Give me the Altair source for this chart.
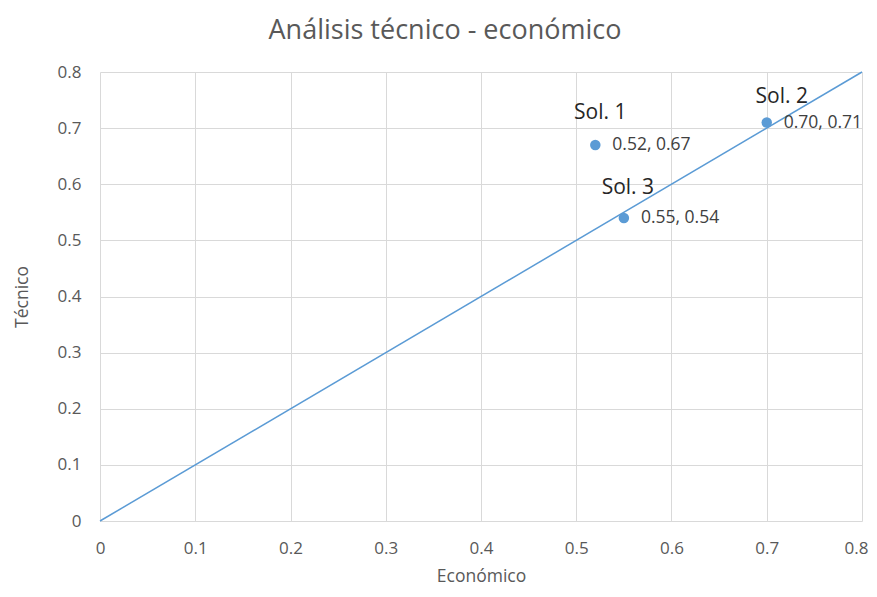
import altair as alt
import pandas as pd

sol_names = ["Sol. 1", "Sol. 2", "Sol. 3"]
economico = [0.52, 0.70, 0.55]
tecnico = [0.67, 0.71, 0.54]
value_labels = ["0.52, 0.67", "0.70, 0.71", "0.55, 0.54"]

line_x = [0.0, 0.8]
line_y = [0.0, 0.8]

tick_values = [0, 0.1, 0.2, 0.3, 0.4, 0.5, 0.6, 0.7, 0.8]

pts = pd.DataFrame({"name": sol_names, "x": economico, "y": tecnico, "lab": value_labels})
ln = pd.DataFrame({"x": line_x, "y": line_y})

FONT = "Open Sans"
BLUE = "#5B9BD5"
GREY = "#595959"

xs = alt.Scale(domain=[0, 0.8], nice=False, zero=True)
ys = alt.Scale(domain=[0, 0.8], nice=False, zero=True)

xaxis = alt.Axis(values=tick_values, title="Económico", grid=True, gridColor="#d9d9d9",
                 domain=False, ticks=False, labelPadding=19, titlePadding=11, labelFlush=False,
                 labelAlign=alt.ExprRef(expr="datum.value >= 0.8 ? 'right' : 'center'"),
                 labelOffset=alt.ExprRef(expr="datum.value >= 0.8 ? 6 : 0"),
                 labelExpr="datum.value == 0 ? '0' : format(datum.value, '.1f')")
yaxis = alt.Axis(values=tick_values, title="Técnico", grid=True, gridColor="#d9d9d9",
                 domain=False, ticks=False, labelPadding=19, titlePadding=26, labelFlush=False,
                 labelExpr="datum.value == 0 ? '0' : format(datum.value, '.1f')")

line = alt.Chart(ln).mark_line(color=BLUE, strokeWidth=1.5).encode(
    x=alt.X("x:Q", scale=xs, axis=xaxis),
    y=alt.Y("y:Q", scale=ys, axis=yaxis),
)

points = alt.Chart(pts).mark_circle(color=BLUE, size=110, opacity=1).encode(
    x=alt.X("x:Q", scale=xs), y=alt.Y("y:Q", scale=ys)
)

vals = alt.Chart(pts).mark_text(align="left", baseline="middle", dx=17, dy=0,
                                fontSize=17.5, color="#404040", font=FONT).encode(
    x=alt.X("x:Q", scale=xs), y=alt.Y("y:Q", scale=ys), text="lab:N"
)

offsets = {"Sol. 1": (5, -32), "Sol. 2": (15, -26), "Sol. 3": (4, -30)}
name_layers = []
for n, (dx, dy) in offsets.items():
    name_layers.append(
        alt.Chart(pts).transform_filter(alt.datum.name == n).mark_text(
            align="center", baseline="middle", dx=dx, dy=dy, fontSize=21,
            color="#262626", font=FONT).encode(
            x=alt.X("x:Q", scale=xs), y=alt.Y("y:Q", scale=ys), text="name:N")
    )

chart = alt.layer(line, points, vals, *name_layers).properties(
    width=762, height=449,
    title=alt.Title("Análisis técnico - económico", fontSize=27, font=FONT,
                    color=GREY, fontWeight="normal", offset=18, anchor="middle", dx=-36),
    autosize=alt.AutoSizeParams(type="none"),
    padding={"left": 92, "top": 64, "right": 7, "bottom": 68},
).configure_axis(
    labelFont=FONT, labelFontSize=17, labelColor=GREY,
    titleFont=FONT, titleFontSize=17.5, titleColor=GREY, titleFontWeight="normal",
).configure_view(stroke=None)

chart.save("out.html", embed_options={"renderer": "svg", "actions": False})
